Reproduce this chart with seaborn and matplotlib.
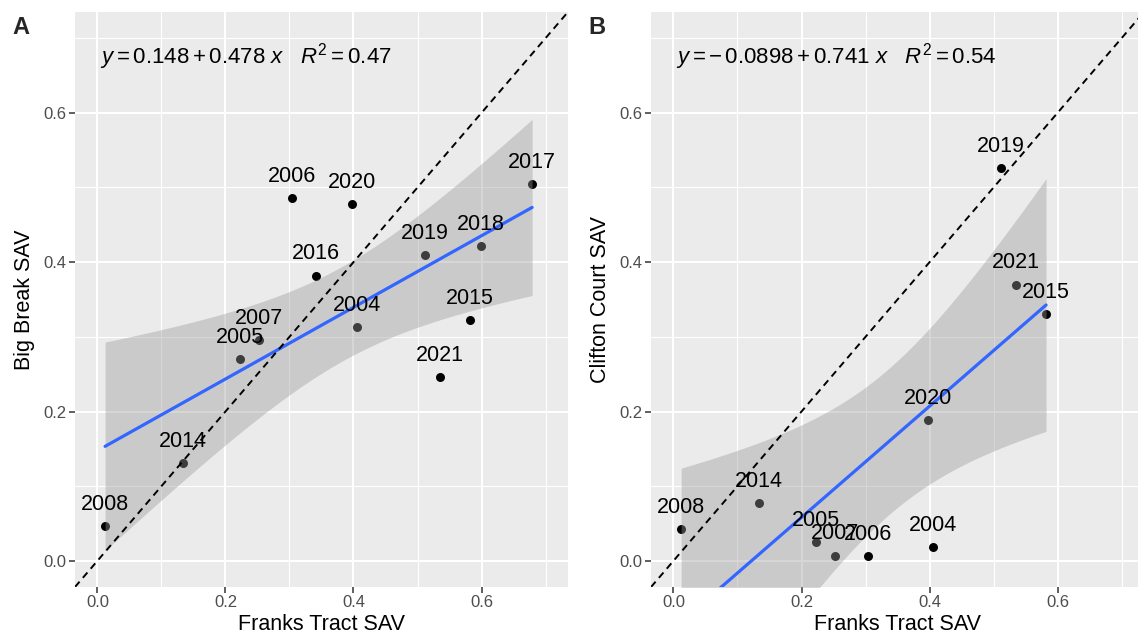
import matplotlib
matplotlib.use('Agg')
import matplotlib.pyplot as plt
import numpy as np
import seaborn as sns

# Panel A: Franks Tract SAV vs Big Break SAV
years_a = ['2008', '2014', '2005', '2007', '2006', '2016', '2020', '2004', '2019', '2021', '2015', '2018', '2017']
franks_a = [0.012, 0.134, 0.223, 0.252, 0.304, 0.342, 0.397, 0.405, 0.511, 0.535, 0.582, 0.599, 0.679]
bigbreak = [0.047, 0.131, 0.270, 0.296, 0.486, 0.382, 0.478, 0.313, 0.409, 0.246, 0.322, 0.421, 0.504]

# Panel B: Franks Tract SAV vs Clifton Court SAV
years_b = ['2008', '2014', '2005', '2007', '2006', '2004', '2020', '2019', '2021', '2015']
franks_b = [0.012, 0.134, 0.223, 0.252, 0.304, 0.405, 0.397, 0.511, 0.535, 0.582]
clifton = [0.042, 0.077, 0.025, 0.007, 0.006, 0.019, 0.189, 0.526, 0.370, 0.330]

eq_a = r'$y = 0.148 + 0.478\ x\quad R^2 = 0.47$'
eq_b = r'$y = -\,0.0898 + 0.741\ x\quad R^2 = 0.54$'

# two-sided 95% t quantiles for df = n - 2 (11 and 8)
t_crit = {13: 2.201, 10: 2.306}

sns.set_theme(style='darkgrid')
plt.rcParams['font.family'] = ['Liberation Sans', 'DejaVu Sans']
plt.rcParams['mathtext.fontset'] = 'custom'
plt.rcParams['mathtext.rm'] = 'Liberation Sans'
plt.rcParams['mathtext.it'] = 'Liberation Sans:italic'
plt.rcParams['axes.facecolor'] = '#EBEBEB'

fig = plt.figure(figsize=(11.38, 6.37), dpi=100)
ax_a = fig.add_axes([0.0659, 0.0785, 0.4332, 0.9027])
ax_b = fig.add_axes([0.5721, 0.0785, 0.4332, 0.9027])


def lm_band(x, y):
    # confidence band of the lm fit, as geom_smooth(method = "lm") draws it
    x = np.asarray(x)
    y = np.asarray(y)
    n = len(x)
    b1, b0 = np.polyfit(x, y, 1)
    resid = y - (b0 + b1 * x)
    s = np.sqrt(np.sum(resid ** 2) / (n - 2))
    sxx = np.sum((x - x.mean()) ** 2)
    grid = np.linspace(x.min(), x.max(), 80)
    fit = b0 + b1 * grid
    se = s * np.sqrt(1 / n + (grid - x.mean()) ** 2 / sxx)
    return grid, fit - t_crit[n] * se, fit + t_crit[n] * se


def draw_panel(ax, x, y, years, eq, ylabel, letter):
    # points first so the ribbon sits on top of them, like ggplot
    sns.scatterplot(x=x, y=y, color='black', s=42, linewidth=0, ax=ax, zorder=1)
    grid, lo, hi = lm_band(x, y)
    ax.fill_between(grid, lo, hi, color='#999999', alpha=0.4, linewidth=0, zorder=2)
    sns.regplot(x=x, y=y, scatter=False, color='#3366FF', ci=None,
                line_kws={'lw': 2.3, 'zorder': 3}, ax=ax)
    ax.axline((0, 0), slope=1, color='black', lw=1.4, ls=(0, (3.6, 2.6)), zorder=4)

    for xi, yi, lab in zip(x, y, years):
        ax.text(xi, yi + 0.029, lab, ha='center', va='center', fontsize=15.5,
                color='black', zorder=5)

    ax.text(0.05, 0.95, eq, transform=ax.transAxes, ha='left', va='top',
            fontsize=16, color='black')

    ax.set_xlim(-0.035, 0.735)
    ax.set_ylim(-0.035, 0.735)
    ticks = [0.0, 0.2, 0.4, 0.6]
    ax.set_xticks(ticks)
    ax.set_yticks(ticks)
    ax.set_xticklabels(['0.0', '0.2', '0.4', '0.6'])
    ax.set_yticklabels(['0.0', '0.2', '0.4', '0.6'])
    ax.set_xticks([0.1, 0.3, 0.5, 0.7], minor=True)
    ax.set_yticks([0.1, 0.3, 0.5, 0.7], minor=True)
    ax.grid(which='major', color='white', lw=1.5)
    ax.grid(which='minor', color='white', lw=0.8)
    ax.tick_params(which='major', bottom=True, left=True, length=4, width=1.1,
                   color='#333333', labelcolor='#4D4D4D', labelsize=12, pad=2)
    ax.tick_params(which='minor', length=0)
    for s in ax.spines.values():
        s.set_visible(False)
    ax.set_xlabel('Franks Tract SAV', fontsize=15.5, color='black', labelpad=3)
    ax.set_ylabel(ylabel, fontsize=15.5, color='black', labelpad=6)
    pos = ax.get_position()
    fig.text(pos.x0 - 0.055, 0.975, letter, fontsize=17, fontweight='bold',
             ha='left', va='top')


draw_panel(ax_a, franks_a, bigbreak, years_a, eq_a, 'Big Break SAV', 'A')
draw_panel(ax_b, franks_b, clifton, years_b, eq_b, 'Clifton Court SAV', 'B')

fig.savefig('out.png', dpi=100)
